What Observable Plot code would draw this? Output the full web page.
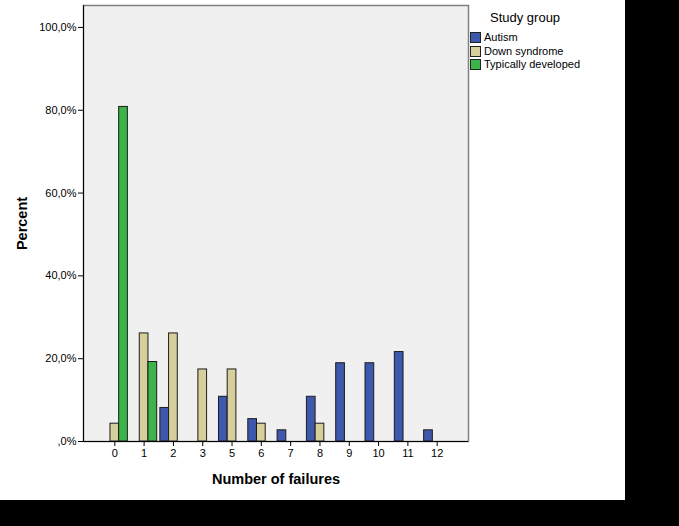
<!DOCTYPE html>
<html>
<head>
<meta charset="utf-8">
<script src="https://cdn.jsdelivr.net/npm/d3@7"></script>
<script src="https://cdn.jsdelivr.net/npm/@observablehq/plot@0.6"></script>
<style>
  html, body { margin: 0; padding: 0; background: #000; }
  #wrap { position: relative; width: 625px; height: 500px; background: #fff; font-family: "Liberation Sans", Arial, sans-serif; }
  #chart svg { display: block; background: #fff; }
  #chart [aria-label="x-axis label"] text, #chart [aria-label="x-axis label"] { font-weight: bold; font-size: 14.5px; }
  #chart [aria-label="y-axis label"] text, #chart [aria-label="y-axis label"] { font-weight: bold; font-size: 14.5px; }
  #legend { position: absolute; left: 470px; top: 10px; width: 150px; color: #000; }
  #legend .title { font-size: 13px; margin-left: 20px; margin-bottom: 6px; line-height: 15px; }
  #legend .item { font-size: 11px; line-height: 13.5px; display: flex; align-items: center; }
  #legend .sw { width: 9px; height: 9px; border: 1px solid #222; margin-right: 3px; }
</style>
</head>
<body>
<div id="wrap">
  <div id="chart"></div>
  <div id="legend"></div>
</div>
<script>
const categories = ["0","1","2","3","5","6","7","8","9","10","11","12"];
const groups = ["Autism","Down syndrome","Typically developed"];
const colors = ["#3e58ac","#d6ce9b","#3cb44a"];
const autism  = [0, 0, 8.1, 0, 10.8, 5.4, 2.7, 10.8, 18.9, 18.9, 21.6, 2.7];
const down    = [4.3, 26.1, 26.1, 17.4, 17.4, 4.3, 0, 4.3, 0, 0, 0, 0];
const typical = [80.8, 19.2, 0, 0, 0, 0, 0, 0, 0, 0, 0, 0];
const yTicks = [0, 20, 40, 60, 80, 100];
const xLabel = "Number of failures";
const yLabel = "Percent";
const legendTitle = "Study group";

const series = [autism, down, typical];
const rows = [];
groups.forEach((g, gi) => categories.forEach((c, ci) => {
  if (series[gi][ci] > 0) rows.push({cat: c, group: g, value: series[gi][ci]});
}));

const W = 472, H = 500, mL = 83, mR = 4, mT = 5, mB = 59;
const pIn = 0.703, pOut = 0.92;
const step = (W - mL - mR) / (categories.length - pIn + 2 * pOut);
const bw = step * (1 - pIn);

const fmt = d => d === 0 ? ",0%" : d.toFixed(1).replace(".", ",") + "%";

const plot = Plot.plot({
  width: W, height: H,
  marginLeft: mL, marginRight: mR, marginTop: mT, marginBottom: mB,
  style: {fontFamily: "'Liberation Sans', Arial, sans-serif", fontSize: "11px", color: "#000", background: "#fff"},
  x: {type: "band", domain: categories, paddingInner: pIn, paddingOuter: pOut, round: false, label: null},
  y: {domain: [0, 105.3], label: null},
  color: {domain: groups, range: colors},
  marks: [
    Plot.frame({fill: "#f0f0f0", stroke: "#808080", strokeWidth: 1.5}),
    ...groups.map((g, gi) => Plot.barY(rows.filter(r => r.group === g), {
      x: "cat", y: "value", fill: "group", stroke: "#1c1c1c", strokeWidth: 1,
      dx: (gi - 1) * bw
    })),
    Plot.ruleY([0], {stroke: "#000", strokeWidth: 1}),
    Plot.frame({anchor: "left", stroke: "#000", strokeWidth: 1}),
    Plot.axisY({ticks: yTicks, tickFormat: fmt, tickSize: 5, tickPadding: 2, label: yLabel, labelAnchor: "center", labelOffset: 67, labelArrow: false}),
    Plot.axisX({tickSize: 5, tickPadding: 3, label: xLabel, labelAnchor: "center", labelOffset: 42, labelArrow: false})
  ]
});
document.getElementById("chart").appendChild(plot);

const leg = document.getElementById("legend");
const t = document.createElement("div");
t.className = "title"; t.textContent = legendTitle; leg.appendChild(t);
groups.forEach((g, i) => {
  const it = document.createElement("div"); it.className = "item";
  const sw = document.createElement("span"); sw.className = "sw"; sw.style.background = colors[i];
  const lb = document.createElement("span"); lb.textContent = g;
  it.appendChild(sw); it.appendChild(lb); leg.appendChild(it);
});
</script>
</body>
</html>
